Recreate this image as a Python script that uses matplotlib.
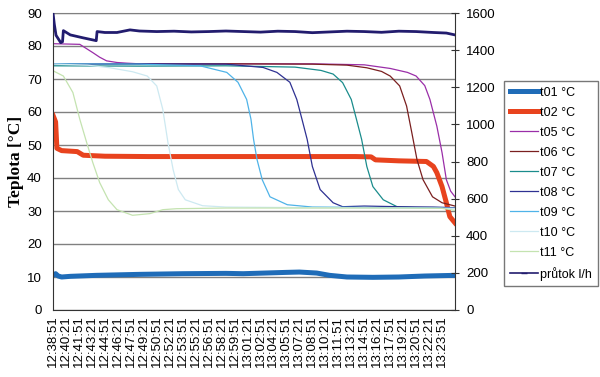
import numpy as np
import matplotlib
matplotlib.use('Agg')
import matplotlib.pyplot as plt
from matplotlib.lines import Line2D

plt.rcParams['font.family'] = ['Liberation Sans', 'DejaVu Sans']

# time axis in minutes from 12:38:51
time_labels = ['12:38:51', '12:40:21', '12:41:51', '12:43:21', '12:44:51', '12:46:21',
               '12:47:51', '12:49:21', '12:50:51', '12:52:21', '12:53:51', '12:55:21',
               '12:56:51', '12:58:21', '12:59:51', '13:01:21', '13:02:51', '13:04:21',
               '13:05:51', '13:07:21', '13:08:51', '13:10:21', '13:11:51', '13:13:21',
               '13:14:51', '13:16:21', '13:17:51', '13:19:21', '13:20:51', '13:22:21',
               '13:23:51']
label_pos = [1.5 * i for i in range(len(time_labels))]

t01_t = [0, 0.3, 0.6, 1.0, 2, 5, 10, 15, 20, 22, 27, 28.5, 30.5, 32, 34, 37, 40, 43, 46.5]
t01_v = [10.5, 11.0, 10.3, 10.0, 10.2, 10.5, 10.8, 11.0, 11.1, 11.0, 11.4, 11.5, 11.2, 10.5, 10.0, 9.9, 10.0, 10.3, 10.5]

t02_t = [0, 0.3, 0.45, 1.0, 2.8, 3.5, 6, 11, 15, 20, 25, 30, 35, 36.8, 37.3, 40, 43.2, 44.0, 44.4, 45.0, 45.5, 45.9, 46.5]
t02_v = [59, 57, 49, 48.3, 48.0, 46.9, 46.6, 46.5, 46.5, 46.5, 46.5, 46.5, 46.5, 46.4, 45.5, 45.2, 45.0, 43.5, 41.6, 37.4, 32.5, 28.3, 26.4]

t05_t = [0, 3.1, 4.6, 5.4, 6.2, 7.4, 8.5, 10, 20, 30, 36, 39, 41, 42, 43, 43.6, 44.4, 45.0, 45.5, 46.0, 46.5]
t05_v = [80.7, 80.5, 78.0, 76.6, 75.5, 75.0, 74.8, 74.6, 74.6, 74.6, 74.3, 73.2, 72.0, 70.9, 68.0, 63.8, 55.7, 47.7, 39.5, 36.0, 34.3]

t06_t = [0, 10, 20, 30, 34, 36.3, 38, 39, 40.1, 40.9, 41.5, 42.1, 42.8, 43.9, 45, 46.5]
t06_v = [74.5, 74.5, 74.6, 74.5, 74.2, 73.4, 72.3, 70.9, 67.9, 61.8, 53.8, 45.6, 39.5, 34.3, 32.5, 31.5]

t07_t = [0, 10, 20, 28, 31, 32.4, 33.5, 34.5, 35.1, 35.7, 36.3, 37.0, 38.2, 39.8, 42, 46.5]
t07_v = [74.0, 73.9, 74.0, 73.6, 72.6, 71.5, 68.9, 63.8, 57.8, 51.7, 43.5, 37.4, 33.4, 31.3, 31.0, 30.8]

t08_t = [0, 10, 20, 24.3, 25.9, 27.4, 28.2, 28.8, 29.4, 30.0, 30.9, 32.4, 33.5, 36, 40, 44, 46.5]
t08_v = [74.5, 74.6, 74.5, 73.5, 72.0, 69.0, 63.8, 57.8, 51.7, 43.5, 36.5, 32.5, 31.3, 31.5, 31.3, 31.2, 31.0]

t09_t = [0, 10, 17.0, 20.1, 21.4, 22.4, 22.9, 23.2, 23.6, 24.2, 25.1, 27.1, 30, 40, 46.5]
t09_v = [74.6, 74.5, 74.0, 72.0, 69.0, 63.8, 57.8, 51.7, 45.6, 39.5, 34.3, 31.9, 31.2, 31.0, 30.8]

t10_t = [0, 4, 6.6, 9.2, 10.9, 12.0, 12.7, 13.3, 13.9, 14.5, 15.3, 17.3, 20, 30, 46.5]
t10_v = [74.5, 74.2, 73.4, 72.2, 70.9, 67.9, 60.8, 50.7, 42.5, 36.5, 33.4, 31.6, 31.2, 31.0, 30.8]

t11_t = [0, 1.2, 2.3, 3.1, 3.9, 4.6, 5.4, 6.4, 7.4, 9.2, 11.2, 12.7, 14.3, 20, 30, 40, 45, 46.5]
t11_v = [72.5, 70.9, 65.9, 57.8, 50.7, 44.7, 38.6, 33.4, 30.4, 28.7, 29.2, 30.4, 30.7, 30.9, 30.9, 30.9, 30.8, 30.2]

flow_t = [0, 0.15, 0.35, 0.9, 1.1, 1.2, 2.0, 3.5, 5.0, 5.1, 6, 7.4, 8.9, 10, 12, 14, 16, 18, 20,
          22, 24, 26, 28, 30, 32, 34, 36, 38, 40, 42, 44, 45.5, 46.5]
flow_v = [1600, 1540, 1480, 1440, 1445, 1505, 1482, 1466, 1451, 1500, 1495, 1495, 1509, 1503, 1500,
          1502, 1498, 1500, 1503, 1500, 1497, 1502, 1500, 1494, 1498, 1502, 1500, 1496, 1502, 1500,
          1495, 1492, 1482]

series = [
    ('t01 °C', t01_t, t01_v, '#1f6cb8', 3.6),
    ('t02 °C', t02_t, t02_v, '#e8431e', 3.6),
    ('t05 °C', t05_t, t05_v, '#9a2ea8', 0.9),
    ('t06 °C', t06_t, t06_v, '#7a1f1f', 0.9),
    ('t07 °C', t07_t, t07_v, '#1a8c8c', 0.9),
    ('t08 °C', t08_t, t08_v, '#2e3192', 0.9),
    ('t09 °C', t09_t, t09_v, '#4fb3e8', 0.9),
    ('t10 °C', t10_t, t10_v, '#cde9f1', 0.9),
    ('t11 °C', t11_t, t11_v, '#c4e3b0', 0.9),
]

fig = plt.figure(figsize=(6, 3.77), dpi=100)
ax = fig.add_axes([53 / 600, 1 - 310 / 377, 402 / 600, 297 / 377])

handles = []
for name, tt, vv, col, lw in series:
    ln, = ax.plot(tt, vv, color=col, linewidth=lw, label=name)
    handles.append(ln)

ax.set_xlim(0, 46.5)
ax.set_ylim(0, 90)
ax.set_yticks(np.arange(0, 91, 10))
ax.yaxis.grid(True, color='#808080', linewidth=1)
ax.set_axisbelow(True)
ax.set_xticks(label_pos)
ax.set_xticklabels(time_labels, rotation=90, fontsize=9.5)
ax.tick_params(axis='y', length=0, pad=8, labelsize=9.5)
ax.tick_params(axis='x', length=0, pad=4)
ax.set_ylabel('Teplota [°C]', family=['Liberation Serif', 'DejaVu Serif'],
              fontweight='bold', fontsize=12.5)
ax.yaxis.set_label_coords(-0.072, 0.5)
for s in ['left', 'bottom']:
    ax.spines[s].set_color('#333333')
ax.spines['top'].set_color('#808080')
ax.spines['right'].set_visible(False)

ax2 = ax.twinx()
fl, = ax2.plot(flow_t, flow_v, color='#221c6e', linewidth=2.0)
ax2.set_ylim(0, 1600)
ax2.set_yticks(np.arange(0, 1601, 200))
ax2.tick_params(axis='y', direction='inout', length=6, pad=5, labelsize=9.5, color='#333333')
ax2.spines['right'].set_color('#333333')
for s in ['left', 'bottom', 'top']:
    ax2.spines[s].set_visible(False)
ax2.set_xlim(0, 46.5)

handles.append(Line2D([], [], color='#221c6e', linewidth=1.2, marker='_', markersize=4))
labels = [s[0] for s in series] + ['průtok l/h']
leg = fig.legend(handles, labels, loc='upper left', bbox_to_anchor=(504 / 600, 1 - 81 / 377),
                 fontsize=9, frameon=True, fancybox=False, edgecolor='#555555',
                 handlelength=2.3, handletextpad=0.15, labelspacing=0.64, borderpad=0.45,
                 borderaxespad=0)
leg.get_frame().set_linewidth(1)

fig.savefig('out.png', dpi=100)
